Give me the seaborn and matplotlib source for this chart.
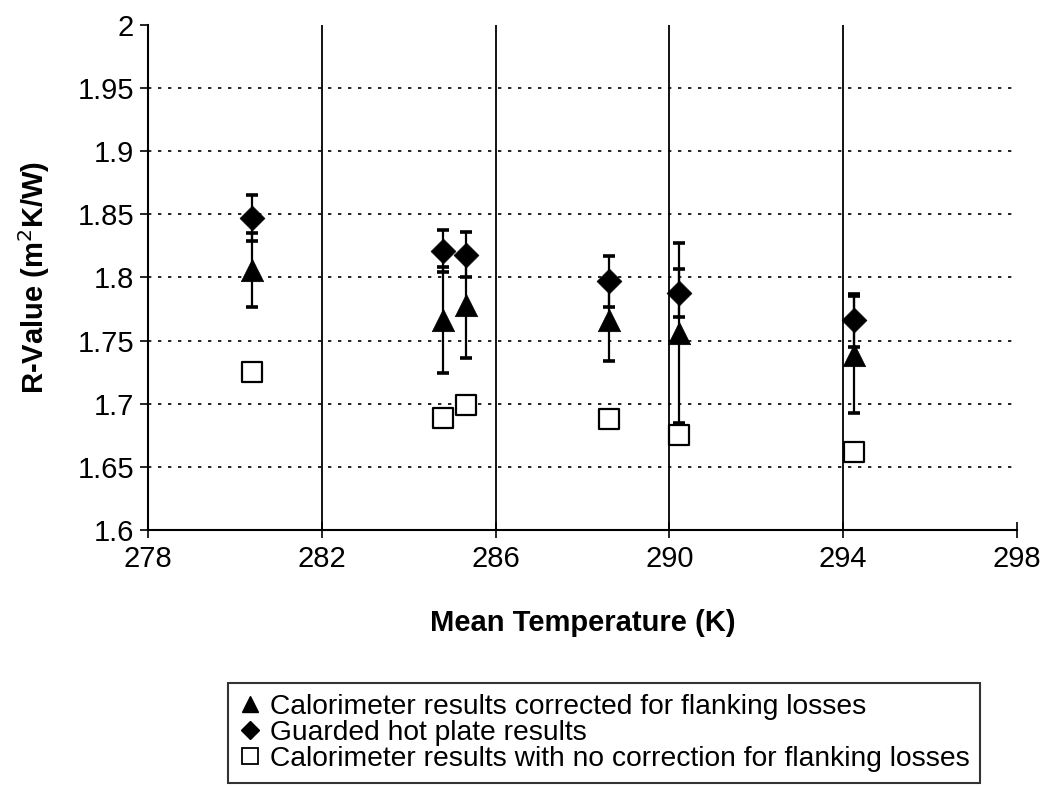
import numpy as np
import pandas as pd
import seaborn as sns
import matplotlib.pyplot as plt
from matplotlib.lines import Line2D

# Values
temps = [280.39, 284.78, 285.31, 288.60, 290.23, 294.25]
corrected = [1.806, 1.766, 1.778, 1.766, 1.756, 1.739]
corrected_err = [0.029, 0.042, 0.042, 0.032, 0.071, 0.046]
hot_plate = [1.847, 1.821, 1.818, 1.797, 1.788, 1.766]
hot_plate_err = [0.018, 0.017, 0.018, 0.020, 0.019, 0.021]
uncorrected = [1.725, 1.689, 1.699, 1.688, 1.675, 1.662]

x_ticks = [278, 282, 286, 290, 294, 298]
y_ticks = [1.6, 1.65, 1.7, 1.75, 1.8, 1.85, 1.9, 1.95, 2.0]
y_tick_labels = ["1.6", "1.65", "1.7", "1.75", "1.8", "1.85", "1.9", "1.95", "2"]

labels = [
    "Calorimeter results corrected for flanking losses",
    "Guarded hot plate results",
    "Calorimeter results with no correction for flanking losses",
]

sns.set_theme(style="white")
plt.rcParams["font.family"] = ["Liberation Sans", "DejaVu Sans"]

df = pd.DataFrame({
    "temp": temps,
    "corrected": corrected,
    "hot_plate": hot_plate,
    "uncorrected": uncorrected,
})

fig = plt.figure(figsize=(10.48, 7.86), dpi=100)
ax = fig.add_axes([0.1412, 0.3257, 0.8292, 0.6425])

# error bars first, markers on top
err_kw = dict(fmt="none", ecolor="black", elinewidth=1.6, capsize=4.5, capthick=2.6)
ax.errorbar(df["temp"], df["corrected"], yerr=corrected_err, zorder=3, **err_kw)
ax.errorbar(df["temp"], df["hot_plate"], yerr=hot_plate_err, zorder=3, **err_kw)

sns.scatterplot(data=df, x="temp", y="corrected", marker="^", s=260, color="black",
                edgecolor="black", linewidth=0.5, ax=ax, zorder=4)
sns.scatterplot(data=df, x="temp", y="hot_plate", marker="D", s=160, color="black",
                edgecolor="black", linewidth=0.5, ax=ax, zorder=4)
sns.scatterplot(data=df, x="temp", y="uncorrected", marker="s", s=210, facecolor="white",
                edgecolor="black", linewidth=1.6, ax=ax, zorder=4)

ax.set_xlim(278, 298)
ax.set_ylim(1.6, 2.0)
ax.set_xticks(x_ticks)
ax.set_yticks(y_ticks)
ax.set_yticklabels(y_tick_labels)
ax.tick_params(axis="both", labelsize=21, colors="black")
ax.tick_params(axis="x", direction="inout", length=12, width=1.2, bottom=True, pad=5)
ax.tick_params(axis="y", direction="out", length=6, width=1.2, left=True, pad=4)

ax.set_xlabel("Mean Temperature (K)", fontsize=21, fontweight="bold", color="black",
              labelpad=26)
ax.set_ylabel("R-Value (m$^2$K/W)", fontsize=21, fontweight="bold", color="black",
              labelpad=18)

# Excel-like grid: solid vertical, dotted horizontal
ax.xaxis.grid(True, color="black", linewidth=1.3, linestyle="-")
ax.yaxis.grid(True, color="black", linewidth=1.2, linestyle=(0, (2, 4)))
ax.set_axisbelow(True)
xg = ax.get_xgridlines()
xg[0].set_visible(False)
xg[-1].set_visible(False)
yg = ax.get_ygridlines()
yg[0].set_visible(False)
yg[-1].set_visible(False)

for side in ["top", "right"]:
    ax.spines[side].set_visible(False)
for side in ["left", "bottom"]:
    ax.spines[side].set_color("black")
    ax.spines[side].set_linewidth(1.5)

handles = [
    Line2D([], [], marker="^", linestyle="none", color="black", markersize=11),
    Line2D([], [], marker="D", linestyle="none", color="black", markersize=9),
    Line2D([], [], marker="s", linestyle="none", markerfacecolor="white",
           markeredgecolor="black", markeredgewidth=1.3, markersize=12),
]
leg = fig.legend(handles, labels, loc="lower left", bbox_to_anchor=(0.2176, 0.004),
                 bbox_transform=fig.transFigure, fontsize=20.3, frameon=True,
                 fancybox=False, borderaxespad=0, labelspacing=0.0, handlelength=0.8,
                 handletextpad=0.3, borderpad=0.38)
leg.get_frame().set_edgecolor("black")
leg.get_frame().set_linewidth(1.5)
for t in leg.get_texts():
    t.set_color("black")

fig.savefig("out.png", dpi=100, facecolor="white")
